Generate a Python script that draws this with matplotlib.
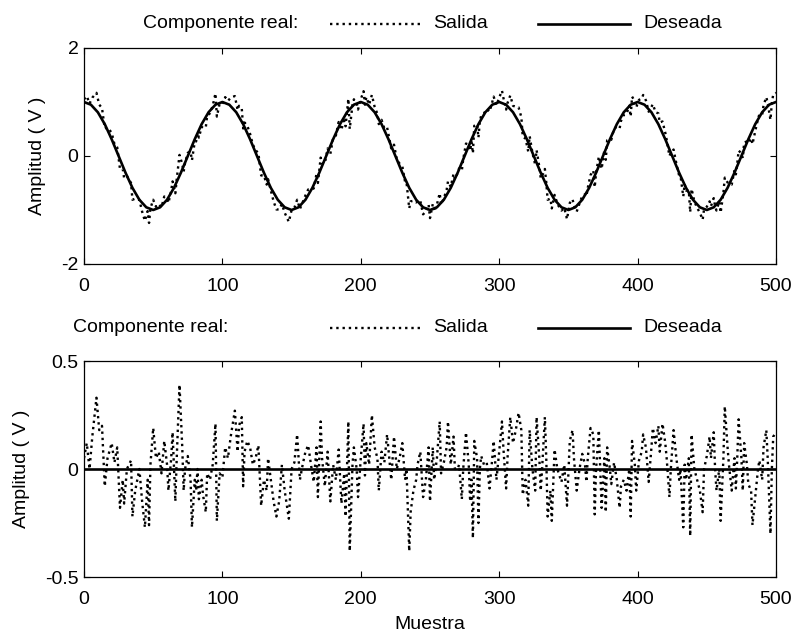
import matplotlib
matplotlib.use("Agg")
import matplotlib.pyplot as plt
from matplotlib.lines import Line2D
import numpy as np

plt.rcParams['font.family'] = ['Liberation Sans', 'DejaVu Sans']
plt.rcParams['axes.unicode_minus'] = False

# ---------------- data ----------------
x_ticks = [0, 100, 200, 300, 400, 500]
top_yticks = [-2, 0, 2]
bot_yticks = [-0.5, 0, 0.5]

# Deseada (top) sampled every 5 samples
deseada_x = list(range(0, 501, 5))
deseada_y = [
    1.0, 0.95, 0.81, 0.59, 0.31, 0.0, -0.31, -0.59, -0.81, -0.95,
    -1.0, -0.95, -0.81, -0.59, -0.31, 0.0, 0.31, 0.59, 0.81, 0.95,
    1.0, 0.95, 0.81, 0.59, 0.31, 0.0, -0.31, -0.59, -0.81, -0.95,
    -1.0, -0.95, -0.81, -0.59, -0.31, 0.0, 0.31, 0.59, 0.81, 0.95,
    1.0, 0.95, 0.81, 0.59, 0.31, 0.0, -0.31, -0.59, -0.81, -0.95,
    -1.0, -0.95, -0.81, -0.59, -0.31, 0.0, 0.31, 0.59, 0.81, 0.95,
    1.0, 0.95, 0.81, 0.59, 0.31, 0.0, -0.31, -0.59, -0.81, -0.95,
    -1.0, -0.95, -0.81, -0.59, -0.31, 0.0, 0.31, 0.59, 0.81, 0.95,
    1.0, 0.95, 0.81, 0.59, 0.31, 0.0, -0.31, -0.59, -0.81, -0.95,
    -1.0, -0.95, -0.81, -0.59, -0.31, 0.0, 0.31, 0.59, 0.81, 0.95,
    1.0,
]

# Sample indices used for the dotted traces
muestra_x = [
    0, 2, 4, 6, 9, 11, 13, 15, 17, 20, 22, 24, 26, 28, 29, 31, 34, 35, 37, 40,
    42, 44, 46, 47, 48, 50, 52, 54, 56, 58, 60, 61, 63, 64, 66, 67, 69, 71, 72, 73,
    75, 77, 78, 80, 81, 82, 83, 85, 86, 88, 89, 91, 93, 95, 96, 98, 100, 102, 104, 106,
    109, 111, 112, 114, 115, 116, 118, 120, 122, 124, 126,
    128, 130, 132, 133, 135, 137, 139, 141, 143, 145, 148, 150, 152, 154, 156, 158, 160, 162, 164, 166,
    168, 169, 171, 172, 174, 176, 178, 180, 182, 184, 186, 188, 189, 191, 192, 194, 195, 197, 198, 200,
    202, 203, 204, 206, 208, 210, 212, 213, 215, 217, 219, 221, 222, 224, 226, 228, 230, 232, 233, 235,
    236, 238, 240, 241, 243, 245, 247, 249, 250,
    252, 253, 255, 257, 258, 260, 262, 263, 265, 267, 268, 270, 271, 273, 274, 276, 278, 279, 280, 281,
    282, 284, 285, 286, 287, 289, 291, 293, 295, 296, 298, 300, 302, 303, 305, 306, 308, 310, 312, 314,
    316, 317, 319, 321, 322, 324, 326, 327, 329, 330, 331, 333, 334, 335, 337, 338, 340, 342, 343, 345,
    347, 349, 351, 353, 354, 356, 358, 360, 362, 363, 364, 366, 368, 369, 370, 372, 374, 376,
    377, 378, 380, 381, 383, 385, 387, 388, 390, 392, 394, 395, 396, 398, 399, 401, 403, 404, 406, 408,
    410, 411, 413, 415, 416, 418, 420, 421, 423, 424, 426, 428, 430, 431, 433, 434, 435, 437, 438, 439,
    441, 443, 445, 447, 448, 450, 452, 453, 455, 456, 457, 459, 460, 462, 463, 465, 466, 468, 470, 471,
    472, 473, 475, 476, 477, 479, 480, 482, 483, 485, 487, 488, 490, 491, 493, 494, 496, 497, 498, 500,
]

# Salida (top, dotted)
salida_top = [
    1.05, 1.11, 0.97, 1.08, 1.17, 0.95, 0.89, 0.51, 0.53, 0.43, 0.22, 0.16, -0.24, -0.24, -0.41, -0.37, -0.50, -0.81, -0.79, -0.81,
    -1.03, -1.20, -1.02, -1.24, -0.97, -0.81, -0.94, -0.89, -0.95, -0.75, -0.79, -0.87, -0.64, -0.47, -0.69, -0.43, 0.02, -0.15, -0.29, -0.13,
    0.06, 0.08, -0.08, 0.26, 0.27, 0.43, 0.34, 0.54, 0.52, 0.53, 0.75, 0.79, 0.93, 1.16, 0.73, 0.97, 0.96, 1.09, 1.02, 1.08,
    1.11, 0.85, 0.93, 0.88, 0.51, 0.62, 0.56, 0.41, 0.21, 0.11, 0.05,
    -0.36, -0.36, -0.53, -0.43, -0.64, -0.84, -0.99, -0.99, -0.89, -1.05, -1.22, -1.00, -0.96, -0.81, -0.98, -0.86, -0.73, -0.62, -0.62, -0.60,
    -0.33, -0.50, -0.03, -0.14, -0.14, 0.14, 0.04, 0.33, 0.38, 0.63, 0.48, 0.71, 0.55, 1.06, 0.50, 0.95, 1.05, 0.98, 0.86, 1.05,
    1.20, 0.95, 1.09, 0.95, 1.13, 0.91, 0.78, 0.59, 0.67, 0.51, 0.53, 0.27, 0.14, 0.21, -0.06, -0.14, -0.19, -0.48, -0.48, -0.97,
    -0.84, -0.83, -0.86, -0.82, -0.83, -1.08, -1.03, -0.90, -1.15,
    -0.89, -1.03, -0.90, -0.69, -0.90, -0.78, -0.63, -0.47, -0.57, -0.33, -0.43, -0.31, -0.23, -0.27, -0.06, 0.23, 0.21, 0.10, 0.26, 0.05,
    0.56, 0.59, 0.34, 0.64, 0.75, 0.79, 0.87, 0.82, 1.00, 1.10, 0.94, 1.08, 1.21, 1.08, 0.86, 0.98, 1.12, 0.93, 0.91, 0.90,
    0.72, 0.36, 0.32, 0.08, 0.37, 0.06, -0.16, 0.11, -0.20, -0.41, -0.37, -0.24, -0.49, -0.81, -0.79, -0.97, -0.72, -0.88, -0.93, -1.01,
    -0.96, -1.17, -0.87, -0.80, -0.92, -1.03, -0.88, -0.74, -0.71, -0.75, -0.59, -0.35, -0.27, -0.58, -0.31, -0.01, -0.24, 0.11,
    -0.07, 0.29, 0.31, 0.30, 0.51, 0.54, 0.51, 0.65, 0.76, 0.78, 0.93, 0.73, 1.10, 1.01, 0.90, 1.04, 1.06, 1.13, 1.03, 0.82,
    0.91, 0.96, 0.81, 0.79, 0.62, 0.64, 0.43, 0.30, 0.00, 0.06, 0.12, -0.14, -0.36, -0.37, -0.75, -0.52, -0.64, -0.64, -1.04, -0.61,
    -0.84, -0.96, -1.05, -1.18, -0.99, -0.94, -0.84, -0.93, -0.78, -0.93, -1.01, -0.84, -1.05, -0.68, -0.40, -0.49, -0.52, -0.53, -0.26, -0.34,
    -0.14, 0.10, 0.05, -0.04, 0.25, 0.27, 0.24, 0.33, 0.22, 0.46, 0.69, 0.77, 0.76, 0.94, 1.09, 0.98, 0.67, 0.98, 1.14, 1.17,
]

# Salida (bottom, dotted)
salida_bot = [
    0.05, 0.12, 0.00, 0.15, 0.33, 0.18, 0.20, -0.08, 0.05, 0.12, 0.03, 0.10, -0.18, -0.05, -0.16, 0.00, 0.04, -0.22, -0.10, 0.00,
    -0.15, -0.27, -0.05, -0.26, 0.02, 0.19, 0.05, 0.08, -0.02, 0.13, 0.02, -0.10, 0.05, 0.17, -0.15, 0.05, 0.39, 0.10, -0.10, 0.00,
    0.06, -0.05, -0.27, -0.05, -0.10, 0.00, -0.14, -0.05, -0.12, -0.20, -0.02, -0.05, 0.02, 0.21, -0.24, -0.02, -0.04, 0.10, 0.05, 0.15,
    0.27, 0.08, 0.20, 0.24, -0.08, 0.08, 0.13, 0.10, 0.02, 0.05, 0.11,
    -0.17, -0.05, -0.10, 0.05, -0.05, -0.15, -0.22, -0.15, 0.02, -0.10, -0.23, 0.00, 0.03, 0.16, -0.05, 0.02, 0.08, 0.11, 0.02, -0.06,
    0.10, -0.13, 0.22, 0.05, -0.08, 0.08, -0.15, 0.02, -0.05, 0.09, -0.16, -0.02, -0.22, 0.22, -0.38, 0.02, 0.10, 0.00, -0.13, 0.05,
    0.21, -0.03, 0.12, 0.02, 0.25, 0.10, 0.05, -0.10, 0.08, 0.03, 0.16, 0.02, -0.05, 0.15, 0.00, 0.05, 0.12, -0.05, 0.00, -0.38,
    -0.20, -0.10, -0.05, 0.02, 0.08, -0.13, -0.05, 0.10, -0.15,
    0.10, -0.05, 0.05, 0.22, -0.02, 0.03, 0.10, 0.22, 0.02, 0.15, 0.00, 0.00, 0.02, -0.14, 0.00, 0.17, 0.02, -0.15, -0.05, -0.32,
    0.13, 0.05, -0.25, 0.00, 0.06, 0.02, 0.03, -0.09, 0.05, 0.13, -0.05, 0.08, 0.22, 0.10, -0.09, 0.05, 0.24, 0.12, 0.18, 0.26,
    0.18, -0.12, -0.05, -0.17, 0.18, 0.00, -0.10, 0.24, 0.05, -0.10, 0.00, 0.24, 0.05, -0.22, -0.10, -0.24, 0.09, 0.00, -0.02, -0.06,
    0.02, -0.17, 0.13, 0.18, 0.05, -0.10, 0.00, 0.07, 0.02, -0.06, 0.05, 0.19, 0.16, -0.21, 0.00, 0.18, -0.18, 0.05,
    -0.20, 0.10, 0.00, -0.07, 0.03, -0.05, -0.18, -0.08, -0.05, -0.10, 0.00, -0.22, 0.13, 0.02, -0.10, 0.04, 0.08, 0.16, 0.10, -0.06,
    0.10, 0.19, 0.12, 0.20, 0.08, 0.21, 0.12, 0.05, -0.13, 0.00, 0.18, 0.05, -0.05, 0.00, -0.27, 0.02, -0.05, 0.05, -0.31, 0.16,
    0.00, -0.05, -0.10, -0.20, 0.00, 0.06, 0.15, 0.05, 0.17, 0.00, -0.10, 0.00, -0.24, 0.05, 0.29, 0.10, 0.02, -0.10, 0.05, -0.09,
    0.05, 0.23, 0.05, -0.10, 0.12, 0.02, -0.07, -0.10, -0.26, -0.13, 0.00, 0.04, -0.05, 0.10, 0.18, 0.05, -0.30, 0.00, 0.15, 0.17,
]

# Deseada (bottom)
deseada_bot_x = [0, 500]
deseada_bot_y = [0.0, 0.0]

# ---------------- figure ----------------
W, H = 795, 637
fig = plt.figure(figsize=(W / 100, H / 100), dpi=100)

FS = 14


def ax_rect(x0, y0, x1, y1):
    return [x0 / W, 1 - y1 / H, (x1 - x0) / W, (y1 - y0) / H]


def style(ax, yticks, ylim):
    ax.set_xlim(0, 500)
    ax.set_ylim(*ylim)
    ax.set_xticks(x_ticks)
    ax.set_yticks(yticks)
    ax.tick_params(direction='in', top=True, right=True, length=4, width=0.8,
                   labelsize=FS, colors='black')
    ax.tick_params(axis='x', pad=10)
    ax.tick_params(axis='y', pad=4)
    for s in ax.spines.values():
        s.set_linewidth(0.9)
        s.set_color('black')
    ax.set_ylabel('Amplitud ( V )', fontsize=FS, labelpad=10.5)


ax1 = fig.add_axes(ax_rect(84, 48, 776, 264))
ax1.plot(muestra_x, salida_top, color='black', lw=1.7, ls=':')
ax1.plot(deseada_x, deseada_y, color='black', lw=1.9)
style(ax1, top_yticks, (-2, 2))
ax1.set_yticklabels(['-2', '0', '2'])

ax2 = fig.add_axes(ax_rect(84, 361, 776, 577))
ax2.plot(muestra_x, salida_bot, color='black', lw=1.7, ls=':')
ax2.plot(deseada_bot_x, deseada_bot_y, color='black', lw=1.9)
style(ax2, bot_yticks, (-0.5, 0.5))
ax2.set_yticklabels(['-0.5', '0', '0.5'])
ax2.set_xlabel('Muestra', fontsize=FS, labelpad=6)


def fig_legend(x_title, y):
    yf = 1 - y / H
    fig.text(x_title / W, yf, 'Componente real:', fontsize=FS, va='center', ha='left')
    fig.add_artist(Line2D([330 / W, 422 / W], [yf, yf], transform=fig.transFigure,
                          color='black', lw=1.7, ls=':'))
    fig.text(433 / W, yf, 'Salida', fontsize=FS, va='center', ha='left')
    fig.add_artist(Line2D([538 / W, 630 / W], [yf, yf], transform=fig.transFigure,
                          color='black', lw=1.9))
    fig.text(643 / W, yf, 'Deseada', fontsize=FS, va='center', ha='left')


fig_legend(143, 24)
fig_legend(73, 328)

fig.savefig('out.png', dpi=100)
